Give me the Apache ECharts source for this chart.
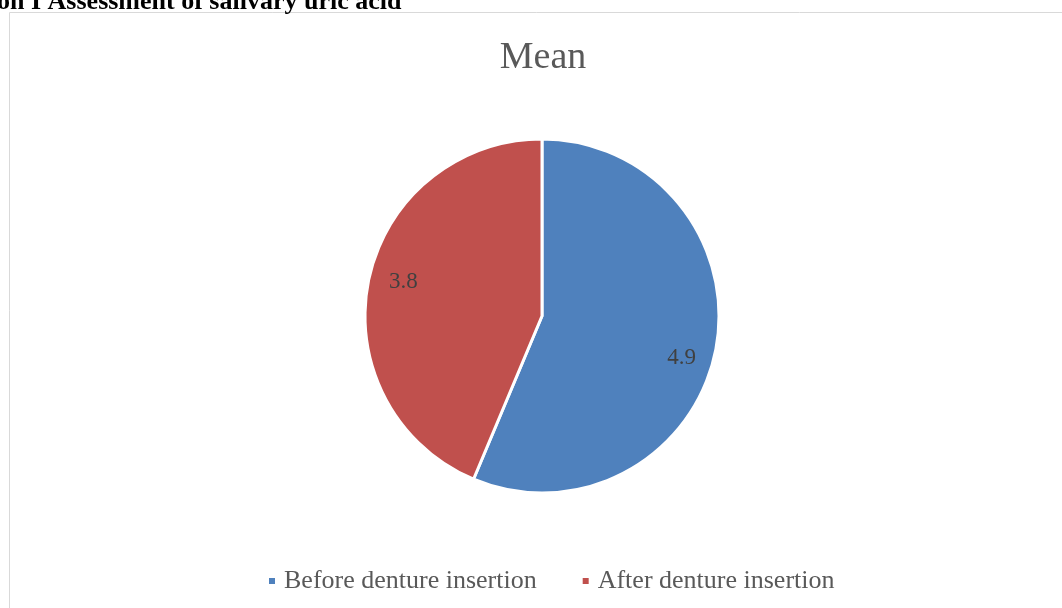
<!DOCTYPE html>
<html>
<head>
<meta charset="utf-8">
<script src="https://cdn.jsdelivr.net/npm/echarts@6/dist/echarts.min.js"></script>
<style>
  html, body { margin: 0; padding: 0; background: #fff; }
  #chart { width: 1062px; height: 608px; }
</style>
</head>
<body>
<div id="chart"></div>
<script>
// data
var categories = ["Before denture insertion", "After denture insertion"];
var meanValues = [4.9, 3.8];
var sliceColors = ["#4F81BD", "#C0504D"];
var chartTitle = "Mean";
var pageHeading = "on I Assessment of salivary uric acid";

var serif = "'Liberation Serif', 'DejaVu Serif', serif";

// Excel puts the labels a bit further out than ECharts' inside position
var labelNudge = [[50, 24], [-49, -16]];

var chart = echarts.init(document.getElementById("chart"));
chart.setOption({
  animation: false,
  title: {
    text: chartTitle,
    left: 538,
    top: 34,
    textAlign: "center",
    textStyle: {
      fontFamily: serif,
      fontSize: 38,
      fontWeight: "normal",
      color: "#595959"
    }
  },
  legend: {
    data: categories,
    left: 262,
    top: 563,
    icon: "rect",
    itemWidth: 8,
    itemHeight: 8,
    itemGap: 44,
    textStyle: {
      fontFamily: serif,
      fontSize: 26,
      color: "#595959",
      padding: [0, 0, 0, 3]
    }
  },
  graphic: [
    {
      type: "rect",
      shape: { x: 9.5, y: 12.5, width: 1100, height: 700 },
      style: { fill: "none", stroke: "#d9d9d9", lineWidth: 1 },
      silent: true
    },
    {
      type: "text",
      left: -3,
      top: -11,
      style: {
        text: pageHeading,
        font: "bold 26px 'Liberation Serif', serif",
        fill: "#000"
      },
      silent: true
    }
  ],
  series: [
    {
      type: "pie",
      center: [542, 316],
      radius: [0, 177],
      startAngle: 90,
      clockwise: true,
      silent: true,
      itemStyle: { borderColor: "#fff", borderWidth: 3 },
      label: {
        show: true,
        position: "inside",
        formatter: "{c}",
        fontFamily: serif,
        fontSize: 23,
        color: "#404040"
      },
      labelLine: { show: false },
      data: categories.map(function (name, i) {
        return {
          name: name,
          value: meanValues[i],
          itemStyle: { color: sliceColors[i] },
          label: { offset: labelNudge[i] }
        };
      })
    }
  ]
});
</script>
</body>
</html>
